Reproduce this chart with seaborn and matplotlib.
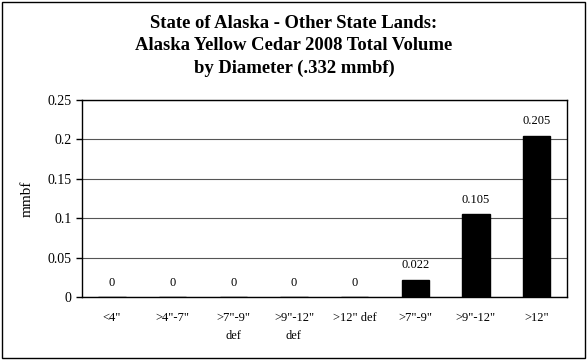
import matplotlib.pyplot as plt
import seaborn as sns
import numpy as np
import pandas as pd
from matplotlib.patches import Rectangle

# diameter classes and volume (mmbf)
categories = ['<4"', '>4"-7"', '>7"-9"\ndef', '>9"-12"\ndef', '>12" def', '>7"-9"', '>9"-12"', '>12"']
volume = [0, 0, 0, 0, 0, 0.022, 0.105, 0.205]
y_ticks = [0, 0.05, 0.1, 0.15, 0.2, 0.25]
title = 'State of Alaska - Other State Lands:\nAlaska Yellow Cedar 2008 Total Volume\nby Diameter (.332 mmbf)'


def viz_bar(df, outpath='out.png'):
    sns.set_style('white')
    plt.rcParams['font.family'] = ['Liberation Serif', 'DejaVu Serif']
    plt.rcParams['text.color'] = 'black'
    plt.rcParams['xtick.color'] = 'black'
    plt.rcParams['ytick.color'] = 'black'
    plt.rcParams['axes.labelcolor'] = 'black'

    fig = plt.figure(figsize=(5.88, 3.6), dpi=100)
    ax = fig.add_axes([0.139, 0.175, 0.825, 0.547])

    sns.barplot(data=df, x='diameter', y='mmbf', color='black', width=0.45,
                saturation=1, ax=ax, zorder=3)
    for bar in ax.patches:
        bar.set_edgecolor('black')

    ax.bar_label(ax.containers[0], labels=['%g' % v for v in df['mmbf']],
                 padding=6, fontsize=9)

    ax.set_ylim(0, 0.25)
    ax.set_xlim(-0.5, len(categories) - 0.5)
    ax.set_yticks(y_ticks)
    ax.set_yticklabels(['%g' % t for t in y_ticks], fontsize=10)
    ax.yaxis.grid(True, color='#555555', linewidth=0.8, zorder=0)
    ax.set_axisbelow(True)

    ax.set_xticks(range(len(categories)))
    ax.set_xticklabels(categories, fontsize=9, linespacing=1.6, va='top')
    ax.set_xticks(np.arange(-0.5, len(categories), 1), minor=True)
    ax.tick_params(axis='x', which='major', length=0, pad=11)
    ax.tick_params(axis='x', which='minor', length=4, width=1, direction='out', color='black')
    ax.tick_params(axis='y', length=4, width=1, direction='out', color='black', left=True)

    for sp in ax.spines.values():
        sp.set_visible(True)
        sp.set_color('black')
        sp.set_linewidth(1.0)

    ax.set_xlabel('')
    ax.set_ylabel('mmbf', fontsize=11, labelpad=10)

    fig.text(0.5, 1 - 15 / 360, title, ha='center', va='top', fontsize=13.4,
             fontweight='bold', linespacing=1.42)

    fig.patches.append(Rectangle((0.004, 0.006), 0.991, 0.988, transform=fig.transFigure,
                                 fill=False, edgecolor='black', linewidth=1))

    fig.savefig(outpath, dpi=100)
    plt.close()


if __name__ == '__main__':
    df = pd.DataFrame({'diameter': categories, 'mmbf': volume})
    viz_bar(df)
